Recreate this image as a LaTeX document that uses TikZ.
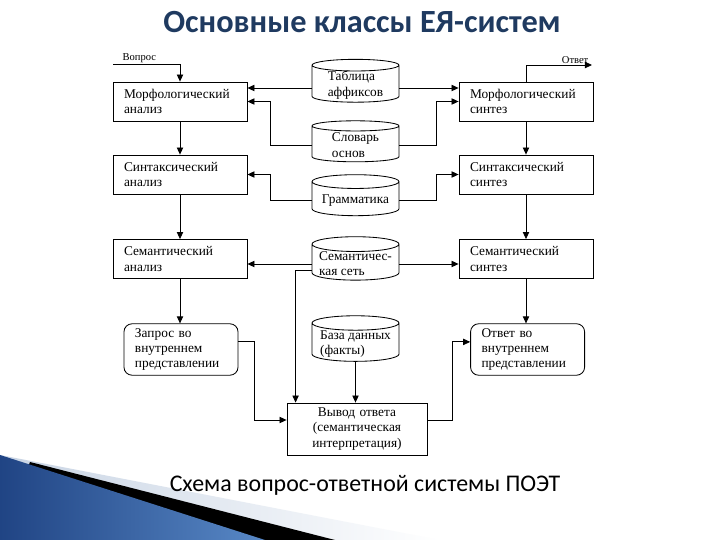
\documentclass[tikz,border=0pt]{standalone}
\usepackage{fontspec}
\setmainfont{Liberation Serif}
\newfontfamily\headfont{Carlito}
\usepackage{xcolor}
\usetikzlibrary{arrows.meta,shapes.geometric}
\definecolor{titleblue}{RGB}{31,58,96}
\definecolor{wedgedark}{RGB}{32,68,132}
\definecolor{wedgelight}{RGB}{88,136,198}
\definecolor{wedgegrey}{RGB}{200,212,228}

\begin{document}
\begin{tikzpicture}[
      arr/.style={-{Triangle[length=5pt,width=4.5pt]}, line width=0.6pt},
      txt/.style={font=\fontsize{9.5}{10.8}\selectfont},
      box/.style={draw, line width=0.6pt, fill=white, txt, align=left,
        minimum width=3.35cm, minimum height=0.975cm, text width=2.8cm},
      rbox/.style={box, rounded corners=0.2cm, minimum width=2.85cm,
        text width=2.3cm, minimum height=1.275cm},
      store/.style={cylinder, shape border rotate=90, draw, line width=0.6pt,
        fill=white, aspect=0.18, txt, align=left, inner ysep=0pt,
        minimum width=2.175cm, minimum height=1.025cm},
      lbl/.style={font=\fontsize{7.5}{9}\selectfont, inner sep=1pt}
    ]

    \useasboundingbox (0,0) rectangle (18,13.5);
    \fill[white] (0,0) rectangle (18,13.5);

    % ══ corner wedge ══════════════════════════════════════════════════════════
    \shade[left color=wedgegrey, right color=white] (0,2.125) -- (11,0) -- (0,0) -- cycle;
    \fill[black] (0.75,1.95) -- (8.375,0) -- (0,0) -- cycle;
    \shade[left color=wedgedark, right color=wedgelight] (0,2.125) -- (6.625,0) -- (0,0) -- cycle;

    % ══ headings ══════════════════════════════════════════════════════════════
    \node[font=\headfont\bfseries\fontsize{23}{26}\selectfont, text=titleblue]
      (title) at (9.05,12.95) {Основные классы ЕЯ-систем};
    \node[font=\headfont\fontsize{17}{20}\selectfont]
      (caption) at (9.125,1.375) {Схема вопрос-ответной системы ПОЭТ};

    % ══ analysis column ═══════════════════════════════════════════════════════
    \node[box] (mA) at (4.5,10.9625) {Морфологический\\анализ};
    \node[box] (sA) at (4.5,9.1375) {Синтаксический\\анализ};
    \node[box] (seA) at (4.5,7.025) {Семантический\\анализ};
    \node[rbox] (qA) at (4.525,4.7625) {Запрос во\\внутреннем\\представлении};

    % ══ synthesis column ══════════════════════════════════════════════════════
    \node[box] (mS) at (13.15,10.9625) {Морфологический\\синтез};
    \node[box] (sS) at (13.15,9.1375) {Синтаксический\\синтез};
    \node[box] (seS) at (13.15,7.025) {Семантический\\синтез};
    \node[rbox] (oS) at (13.19,4.7625) {Ответ во\\внутреннем\\представлении};

    % ══ stores ════════════════════════════════════════════════════════════════
    \node[store] (tab) at (8.8875,11.37) {Таблица\\аффиксов};
    \node[store] (dic) at (8.8875,9.87) {Словарь\\основ};
    \node[store] (gram) at (8.8875,8.49) {Грамматика};
    \node[store] (sem) at (8.8875,6.90) {Семантичес-\\кая сеть};
    \node[store] (base) at (8.8875,4.90) {База данных\\(факты)};

    \node[box, align=center, minimum width=3.5cm, minimum height=1.3cm, text width=3.1cm]
      (out) at (8.925,2.775) {Вывод ответа\\(семантическая\\интерпретация)};

    % ══ input / output ════════════════════════════════════════════════════════
    \coordinate (ask) at (2.825,11.9);
    \coordinate (reply) at (14.8,11.875);
    \draw[arr] (ask) -| (mA.north);
    \node[lbl, anchor=south west] (askL) at ([xshift=0.2cm]ask) {Вопрос};
    \draw[arr] (mS.north) |- (reply);
    \node[lbl, anchor=south east] (replyL) at ([xshift=-0.05cm]reply) {Ответ};

    % columns
    \draw[arr] (mA) -- (sA);
    \draw[arr] (sA) -- (seA);
    \draw[arr] (seA) -- (seA |- qA.north);
    \draw[arr] (mS) -- (sS);
    \draw[arr] (sS) -- (seS);
    \draw[arr] (seS) -- (seS |- oS.north);

    % stores to boxes
    \draw[arr] ([yshift=-0.07cm]tab.west) -- ([yshift=-0.07cm]tab.west -| mA.east);
    \draw[arr] ([yshift=-0.07cm]tab.east) -- ([yshift=-0.07cm]tab.east -| mS.west);
    \draw[arr] (dic.west) -- ++(-1.025,0) |- (mA.east);
    \draw[arr] (dic.east) -- ++(0.925,0) |- (mS.west);
    \draw[arr] (gram.west) -- ++(-1.025,0) |- (sA.east);
    \draw[arr] (gram.east) -- ++(0.925,0) |- (sS.west);
    \draw[arr] (sem.west) -- (sem.west -| seA.east);
    \draw[arr] (sem.east) -- (sem.east -| seS.west);
    \draw[arr] ([yshift=-0.16cm]sem.west) -| ([xshift=0.225cm]out.north west);
    \draw[arr] (base.south) -- (base.south |- out.north);

    % query and answer
    \draw[arr] ([yshift=0.19cm]qA.east) -- ++(0.4,0) |- ([yshift=0.225cm]out.west);
    \draw[arr] ([yshift=0.225cm]out.east) -- ++(0.625,0) |- ([yshift=0.19cm]oS.west);

  \end{tikzpicture}
\end{document}
